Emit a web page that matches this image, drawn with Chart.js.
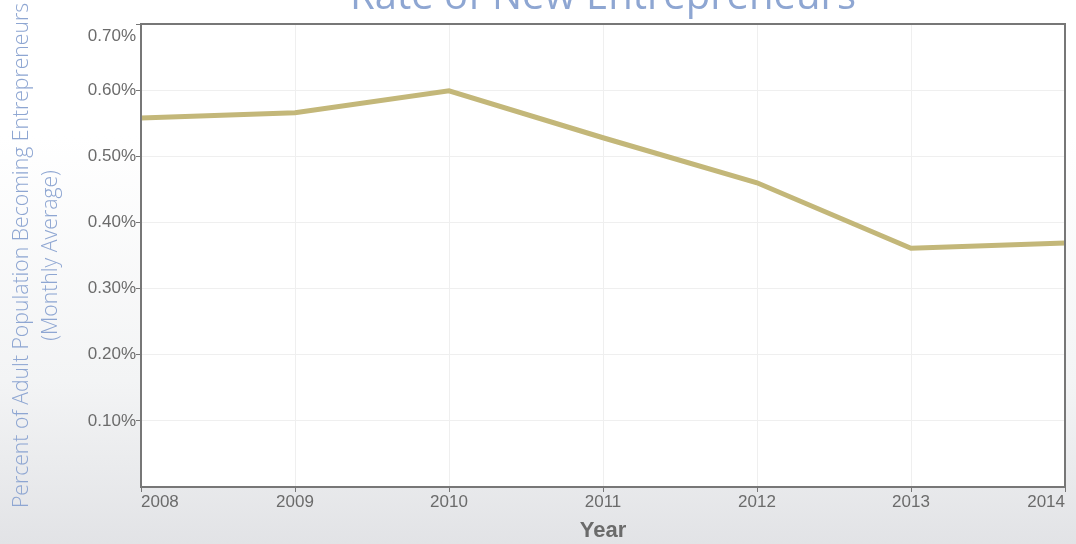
<!DOCTYPE html>
<html>
<head>
<meta charset="utf-8">
<script src="https://cdn.jsdelivr.net/npm/chart.js@4/dist/chart.umd.min.js"></script>
<style>
    html, body {
        margin: 0;
        padding: 0;
        width: 1076px;
        height: 544px;
        overflow: hidden;
        background: linear-gradient(to bottom, #ffffff 0%, #ffffff 25%, #f3f4f5 70%, #e2e3e6 100%);
    }
    #contenedor {
        position: absolute;
        left: 0;
        top: -22px;
        width: 1076px;
        height: 566px;
    }
</style>
</head>
<body>
<div id="contenedor"><canvas id="graficoEmprendedores"></canvas></div>
<script>
const anios = ["2008", "2009", "2010", "2011", "2012", "2013", "2014"];
const tasaNuevos = [0.558, 0.566, 0.599, 0.528, 0.460, 0.361, 0.369]; // % mensual
const marcasY = [0.1, 0.2, 0.3, 0.4, 0.5, 0.6, 0.7];

const azulTitulo = "#8ea6d2";
const grisTexto = "#6b6b6b";

// fondo blanco y marco gris del area de trazado
const marcoArea = {
    id: "marcoArea",
    beforeDraw(chart) {
        const { ctx, chartArea: a } = chart;
        ctx.save();
        ctx.fillStyle = "#ffffff";
        ctx.fillRect(a.left, a.top, a.right - a.left, a.bottom - a.top);
        ctx.restore();
    },
    afterDraw(chart) {
        const { ctx, chartArea: a } = chart;
        ctx.save();
        ctx.strokeStyle = "#777777";
        ctx.lineWidth = 2;
        ctx.strokeRect(a.left, a.top, a.right - a.left, a.bottom - a.top);
        ctx.restore();
    }
};

document.addEventListener("DOMContentLoaded", function () {
    cargarGrafico();
});

function cargarGrafico() {
    const ctx = document.getElementById("graficoEmprendedores").getContext("2d");
    new Chart(ctx, {
        type: "line",
        data: {
            labels: anios,
            datasets: [{
                label: "Rate of New Entrepreneurs",
                data: tasaNuevos,
                borderColor: "#c3b779",
                borderWidth: 5,
                pointRadius: 0,
                tension: 0,
                fill: false
            }]
        },
        options: {
            responsive: true,
            maintainAspectRatio: false,
            animation: false,
            layout: { padding: { left: 0, right: 11, top: 0, bottom: 0 } },
            plugins: {
                legend: { display: false },
                tooltip: { enabled: false },
                title: {
                    display: true,
                    text: "Rate of New Entrepreneurs",
                    fullSize: false,
                    color: azulTitulo,
                    font: { family: "'Open Sans'", size: 40, weight: "normal", lineHeight: 1 },
                    padding: { top: 0, bottom: 6 }
                }
            },
            scales: {
                x: {
                    type: "category",
                    offset: false,
                    afterFit: s => { s.height = 57; },
                    border: { display: false },
                    grid: {
                        offset: false,
                        color: "#efefef",
                        tickColor: "#777777",
                        tickLength: 5
                    },
                    ticks: {
                        align: "inner",
                        autoSkip: false,
                        maxRotation: 0,
                        padding: 0,
                        color: grisTexto,
                        font: { family: "'Liberation Sans', Arial", size: 17 }
                    },
                    title: {
                        display: true,
                        text: "Year",
                        color: grisTexto,
                        font: { family: "'Liberation Sans', Arial", size: 22, weight: "bold", lineHeight: 1.2 },
                        padding: { top: 0, bottom: 0 }
                    }
                },
                y: {
                    min: 0,
                    max: 0.7,
                    afterFit: s => { s.width = 141; },
                    afterBuildTicks: s => {
                        s.ticks = [0].concat(marcasY).map(v => ({ value: v }));
                    },
                    border: { display: false },
                    grid: {
                        color: "#efefef",
                        // sin marca a la izquierda del cero
                        tickColor: c => (c.tick && c.tick.value === 0 ? "rgba(0,0,0,0)" : "#777777"),
                        tickLength: 5
                    },
                    ticks: {
                        padding: 0,
                        color: grisTexto,
                        font: { family: "'Liberation Sans', Arial", size: 17, lineHeight: 1.4 },
                        callback: function (v) {
                            if (v === 0) return "";
                            const txt = v.toFixed(2) + "%";
                            // la marca superior se baja media linea
                            return v === marcasY[marcasY.length - 1] ? ["", txt] : txt;
                        }
                    },
                    title: {
                        display: true,
                        text: ["Percent of Adult Population Becoming Entrepreneurs", "(Monthly Average)"],
                        color: azulTitulo,
                        font: { family: "'Open Sans'", size: 21.2, weight: 300, lineHeight: 1.37 },
                        padding: { top: 7, bottom: 0 }
                    }
                }
            }
        },
        plugins: [marcoArea]
    });
}
</script>
</body>
</html>
